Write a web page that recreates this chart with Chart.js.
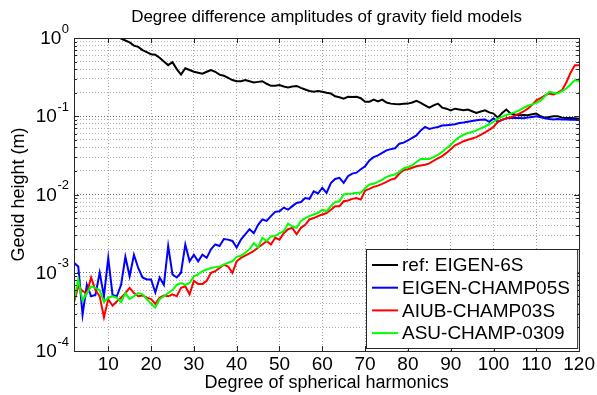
<!DOCTYPE html>
<html>
<head>
<meta charset="utf-8">
<script src="https://cdn.jsdelivr.net/npm/chart.js@4/dist/chart.umd.min.js"></script>
<style>
  body { margin: 0; background: #fff; }
  #wrap { width: 597px; height: 395px; }
</style>
</head>
<body>
<div id="wrap"><canvas id="myChart" width="597" height="395"></canvas></div>
<script>
// spherical harmonic degree 2..120
var degrees = [];
for (var n = 2; n <= 120; n++) degrees.push(n);

var xTicks = [10, 20, 30, 40, 50, 60, 70, 80, 90, 100, 110, 120];
var yDecades = [-4, -3, -2, -1, 0];

var labels = ['ref: EIGEN-6S', 'EIGEN-CHAMP05S', 'AIUB-CHAMP03S', 'ASU-CHAMP-0309'];
var colors = ['#000000', '#0000ff', '#ff0000', '#00ff00'];

// geoid height amplitudes (m) per degree
var eigen6s = [
  3.5, 3.0, 2.7, 2.4, 2.1, 1.9, 1.7, 1.5, 1.3, 1.15, 1.05,
  0.98, 0.93, 0.88, 0.8, 0.77, 0.7, 0.66, 0.62, 0.61, 0.56,
  0.5, 0.45, 0.49, 0.4, 0.34, 0.41, 0.39, 0.37, 0.36, 0.35,
  0.37, 0.39, 0.37, 0.34, 0.33, 0.31, 0.29, 0.28, 0.28, 0.29,
  0.28, 0.27, 0.275, 0.28, 0.26, 0.245, 0.245, 0.25, 0.24, 0.234,
  0.24, 0.244, 0.23, 0.22, 0.21, 0.206, 0.21, 0.206, 0.2, 0.195,
  0.18, 0.175, 0.168, 0.177, 0.176, 0.177, 0.17, 0.153, 0.153, 0.163,
  0.155, 0.163, 0.15, 0.145, 0.143, 0.142, 0.144, 0.145, 0.15, 0.157,
  0.148, 0.138, 0.129, 0.138, 0.145, 0.129, 0.125, 0.119, 0.125, 0.122,
  0.119, 0.122, 0.116, 0.11, 0.115, 0.119, 0.112, 0.108, 0.096, 0.11,
  0.122, 0.108, 0.105, 0.103, 0.104, 0.103, 0.106, 0.108, 0.1, 0.096,
  0.098, 0.1, 0.1, 0.096, 0.095, 0.095, 0.094, 0.093
];

var eigenChamp05s = [
  1.34e-3, 1.2e-3, 2.9e-4, 7e-4, 5e-4, 5.2e-4, 1e-3, 5e-4, 1.55e-3, 5.2e-4,
  5e-4, 7e-4, 1.6e-3, 9e-4, 1.7e-3, 1.15e-3, 8.7e-4, 8.2e-4, 8.2e-4, 5.6e-4,
  8.7e-4, 7e-4, 2.2e-3, 9.5e-4, 8.7e-4, 1e-3, 2.3e-3, 1.4e-3, 1.7e-3, 1.4e-3,
  1.7e-3, 1.55e-3, 2e-3, 2.3e-3, 2.2e-3, 2.7e-3, 2.65e-3, 2.55e-3, 2.1e-3, 2.65e-3,
  3.1e-3, 3.6e-3, 3.2e-3, 4.1e-3, 4.8e-3, 4.6e-3, 5.3e-3, 6e-3, 6.1e-3, 6.8e-3,
  6.4e-3, 7.1e-3, 7.8e-3, 8e-3, 9e-3, 8.8e-3, 0.011, 0.0103, 0.0122, 0.0105,
  0.014, 0.0158, 0.0163, 0.0141, 0.0171, 0.0185, 0.019, 0.021, 0.023, 0.0273,
  0.03, 0.0316, 0.034, 0.0366, 0.038, 0.039, 0.0446, 0.046, 0.049, 0.053,
  0.057, 0.066, 0.073, 0.069, 0.071, 0.073, 0.076, 0.077, 0.078, 0.079,
  0.082, 0.083, 0.085, 0.087, 0.089, 0.09, 0.091, 0.085, 0.094, 0.085,
  0.09, 0.094, 0.095, 0.096, 0.095, 0.094, 0.096, 0.098, 0.1, 0.097,
  0.094, 0.092, 0.091, 0.092, 0.091, 0.091, 0.09, 0.09, 0.089
];

var aiubChamp03s = [
  4.2e-4, 6.7e-4, 5.8e-4, 5.5e-4, 8.7e-4, 6e-4, 5e-4, 2.7e-4, 4.6e-4, 3.8e-4,
  4.3e-4, 4.8e-4, 5.5e-4, 6.4e-4, 5.5e-4, 5e-4, 5.1e-4, 4.8e-4, 4.6e-4, 4e-4,
  4.8e-4, 5.1e-4, 5e-4, 5.3e-4, 5e-4, 6.4e-4, 6.7e-4, 5.3e-4, 7.9e-4, 7.2e-4,
  7.2e-4, 7.9e-4, 1e-3, 1.05e-3, 1.15e-3, 1.27e-3, 1.2e-3, 1e-3, 1.4e-3, 1.55e-3,
  1.65e-3, 1.77e-3, 1.9e-3, 2.1e-3, 2.3e-3, 2.55e-3, 2.3e-3, 2.8e-3, 2.65e-3, 3.2e-3,
  3.6e-3, 3.75e-3, 3.1e-3, 3.75e-3, 4.1e-3, 4.8e-3, 5e-3, 5.3e-3, 5.55e-3, 5.8e-3,
  6.4e-3, 7.1e-3, 7.1e-3, 8.2e-3, 8.4e-3, 8.8e-3, 9e-3, 8.6e-3, 0.0112, 0.0118,
  0.0125, 0.013, 0.0137, 0.0145, 0.0155, 0.016, 0.0185, 0.0205, 0.021, 0.022,
  0.023, 0.0235, 0.024, 0.025, 0.027, 0.029, 0.031, 0.034, 0.038, 0.0425,
  0.045, 0.048, 0.05, 0.052, 0.054, 0.058, 0.062, 0.067, 0.073, 0.085,
  0.09, 0.094, 0.097, 0.102, 0.108, 0.115, 0.125, 0.14, 0.16, 0.17,
  0.185, 0.195, 0.19, 0.2, 0.215, 0.27, 0.36, 0.45, 0.45
];

var asuChamp0309 = [
  4.4e-4, 8.2e-4, 4.4e-4, 5.5e-4, 6.7e-4, 6.4e-4, 6e-4, 4.2e-4, 4.8e-4, 5e-4,
  4.8e-4, 4.2e-4, 5.5e-4, 4.6e-4, 5e-4, 5.5e-4, 5.3e-4, 4.6e-4, 4e-4, 3.6e-4,
  4.6e-4, 5e-4, 5.5e-4, 6e-4, 7e-4, 7.4e-4, 7e-4, 7.4e-4, 9e-4, 9.5e-4,
  1.05e-3, 1.1e-3, 1.15e-3, 1.18e-3, 1.2e-3, 1.27e-3, 1.34e-3, 1.4e-3, 1.6e-3, 1.65e-3,
  1.8e-3, 2e-3, 2.4e-3, 2.1e-3, 2.8e-3, 2.55e-3, 2.9e-3, 2.95e-3, 3.2e-3, 3.4e-3,
  4.25e-3, 3.9e-3, 3.75e-3, 4.6e-3, 5e-3, 5.3e-3, 5.55e-3, 5.8e-3, 6.4e-3, 6.1e-3,
  7.1e-3, 8e-3, 8.2e-3, 0.01, 0.0102, 0.0103, 0.0105, 0.0105, 0.012, 0.0134,
  0.0137, 0.0145, 0.0155, 0.0168, 0.0175, 0.018, 0.0195, 0.0215, 0.0225, 0.0235,
  0.026, 0.0285, 0.0285, 0.0285, 0.03, 0.032, 0.035, 0.039, 0.043, 0.049,
  0.054, 0.058, 0.061, 0.063, 0.066, 0.07, 0.074, 0.079, 0.085, 0.093,
  0.098, 0.104, 0.108, 0.113, 0.119, 0.128, 0.136, 0.142, 0.148, 0.158,
  0.18, 0.205, 0.2, 0.195, 0.21, 0.226, 0.255, 0.29, 0.28
];

var series = [eigen6s, eigenChamp05s, aiubChamp03s, asuChamp0309];

function toPoints(vals) {
  var a = [];
  for (var i = 0; i < vals.length; i++) {
    a.push({x: degrees[i], y: vals[i]});
  }
  return a;
}

var FONT = "'Liberation Sans', Arial, sans-serif";

// box, inner ticks, 10^n labels and the legend, matlab style
var axesDecor = {
  id: 'axesDecor',
  afterDraw: function(chart) {
    var ctx = chart.ctx;
    var a = chart.chartArea;
    var xs = chart.scales.x, ys = chart.scales.y;
    ctx.save();
    ctx.strokeStyle = '#262626';
    ctx.lineWidth = 1;
    ctx.beginPath();
    xTicks.forEach(function(t) {
      var px = Math.round(xs.getPixelForValue(t)) + 0.5;
      ctx.moveTo(px, a.bottom); ctx.lineTo(px, a.bottom - 5);
      ctx.moveTo(px, a.top); ctx.lineTo(px, a.top + 5);
    });
    ys.ticks.forEach(function(t) {
      var py = Math.round(ys.getPixelForValue(t.value)) + 0.5;
      var len = t.major ? 5 : 3;
      ctx.moveTo(a.left, py); ctx.lineTo(a.left + len, py);
      ctx.moveTo(a.right, py); ctx.lineTo(a.right - len, py);
    });
    ctx.stroke();
    ctx.strokeRect(Math.round(a.left) + 0.5, Math.round(a.top) + 0.5,
                   Math.round(a.right - a.left), Math.round(a.bottom - a.top));

    // y labels as 10 with superscript exponent
    ctx.fillStyle = '#000';
    ctx.textBaseline = 'middle';
    ctx.textAlign = 'right';
    yDecades.forEach(function(e) {
      var py = ys.getPixelForValue(Math.pow(10, e));
      var exp = e === 0 ? '0' : '-' + Math.abs(e);
      ctx.font = '13px ' + FONT;
      var ew = ctx.measureText(exp).width;
      var xr = a.left - 5;
      ctx.fillText(exp, xr, py - 9);
      ctx.font = '19px ' + FONT;
      ctx.fillText('10', xr - ew - 0.5, py + 1);
    });

    // legend
    var lx = 366, ly = 249, lw = a.right - 2 - lx, lh = a.bottom - 3 - ly;
    ctx.fillStyle = '#fff';
    ctx.fillRect(lx, ly, lw, lh);
    ctx.strokeStyle = '#262626';
    ctx.strokeRect(lx + 0.5, ly + 0.5, lw, lh);
    ctx.font = '19px ' + FONT;
    ctx.textAlign = 'left';
    for (var i = 0; i < labels.length; i++) {
      var yy = ly + 16 + i * 22.7;
      ctx.strokeStyle = colors[i];
      ctx.lineWidth = 2;
      ctx.beginPath();
      ctx.moveTo(lx + 6, yy); ctx.lineTo(lx + 32, yy);
      ctx.stroke();
      ctx.fillStyle = '#000';
      ctx.fillText(labels[i], lx + 36, yy + 1);
    }

    // title
    ctx.font = '17px ' + FONT;
    ctx.textAlign = 'center';
    ctx.fillText('Degree difference amplitudes of gravity field models', (a.left + a.right) / 2, 17);
    ctx.restore();
  }
};

var datasets = [];
for (var i = 0; i < series.length; i++) {
  datasets.push({
    label: labels[i],
    data: toPoints(series[i]),
    borderColor: colors[i],
    backgroundColor: colors[i],
    borderWidth: 2,
    pointRadius: 0,
    tension: 0,
    clip: 0,
    order: series.length - 1 - i
  });
}

var ctx = document.getElementById('myChart').getContext('2d');
var chart = new Chart(ctx, {
  type: 'line',
  data: { datasets: datasets },
  options: {
    responsive: false,
    animation: false,
    events: [],
    layout: { padding: { top: 38, right: 16, left: 0, bottom: 0 } },
    scales: {
      x: {
        type: 'linear',
        min: 2,
        max: 120,
        afterBuildTicks: function(s) {
          s.ticks = xTicks.map(function(v) { return {value: v}; });
        },
        afterFit: function(s) { s.height = 44; },
        grid: { color: '#a8a8a8', lineWidth: 1, drawTicks: false },
        border: { display: false, dash: [1, 2] },
        ticks: {
          color: '#000',
          padding: 2,
          maxRotation: 0,
          autoSkip: false,
          font: { size: 19, family: FONT }
        },
        title: {
          display: true,
          text: 'Degree of spherical harmonics',
          color: '#000',
          padding: { top: 0, bottom: 1 },
          font: { size: 18, family: FONT }
        }
      },
      y: {
        type: 'logarithmic',
        min: 1e-4,
        max: 1,
        afterBuildTicks: function(s) {
          var t = [];
          for (var e = -4; e < 0; e++) {
            for (var m = 1; m <= 9; m++) {
              t.push({value: m * Math.pow(10, e), major: m === 1});
            }
          }
          t.push({value: 1, major: true});
          s.ticks = t;
        },
        afterFit: function(s) { s.width = 74; },
        grid: {
          drawTicks: false,
          color: function(c) { return c.tick && c.tick.major ? '#6e6e6e' : '#b4b4b4'; },
          lineWidth: 1
        },
        border: { display: false, dash: [1, 2] },
        ticks: { display: false },
        title: {
          display: true,
          text: 'Geoid height (m)',
          color: '#000',
          padding: { top: 8, bottom: 0 },
          font: { size: 18, family: FONT }
        }
      }
    },
    plugins: {
      legend: { display: false },
      tooltip: { enabled: false }
    }
  },
  plugins: [axesDecor]
});
</script>
</body>
</html>
